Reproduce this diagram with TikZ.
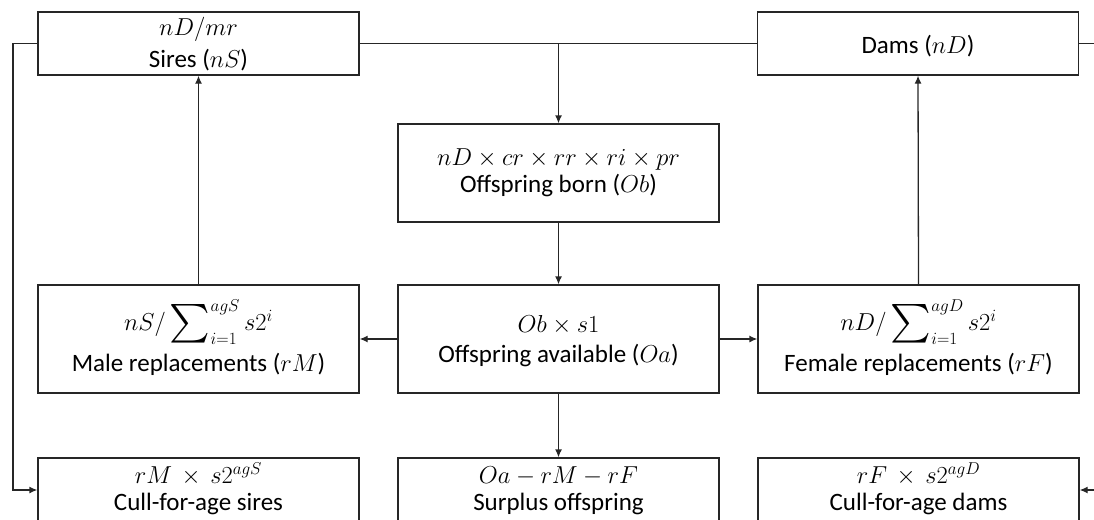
\RequirePackage{fix-cm}
\documentclass[tikz,border=0pt]{standalone}
\usepackage{amsmath}
\usepackage{exscale}
\usepackage{graphicx}
\usepackage{fontspec}
\setmainfont{Carlito}
\usetikzlibrary{arrows.meta,calc}
\tikzset{
  box/.style={draw=black!85,line width=1.3pt,rectangle,inner sep=0pt,minimum width=321pt},
  txt/.style={anchor=base,inner sep=0pt,font=\fontsize{25}{29}\selectfont},
  conn/.style={draw=black!85,line width=1.3pt},
  arr/.style={conn,-{Latex[length=8pt,width=7pt]}}
}
\newcommand{\mm}[1]{{\fontsize{24.5}{28}\selectfont$#1$}}
\newcommand{\bigsum}{\mathop{\vcenter{\hbox{\scalebox{1.55}{$\sum$}}}}\nolimits}
\begin{document}
\begin{tikzpicture}[x=1pt,y=-1pt]
\useasboundingbox (0,0) rectangle (1094,519);
\clip (0,0) rectangle (1094,519);
% boxes
\node[box,minimum height=63pt] (sires) at (198.5,43.5) {};
\node[box,minimum height=63pt] (dams) at (918,43.5) {};
\node[box,minimum height=98pt] (born) at (558.5,173) {};
\node[box,minimum height=108pt] (male) at (198.5,339) {};
\node[box,minimum height=108pt] (avail) at (558.5,339) {};
\node[box,minimum height=108pt] (female) at (918.5,339) {};
\node[box,minimum height=100pt] (cullS) at (198.5,508) {};
\node[box,minimum height=100pt] (surplus) at (558.5,508) {};
\node[box,minimum height=100pt] (cullD) at (918.5,508) {};
% texts
\node[txt] (t1a) at (198.5,36) {\mm{nD/mr}};
\node[txt] (t1b) at (198.5,67) {Sires (\mm{nS})};
\node[txt] (t2a) at (918,53) {Dams (\mm{nD})};
\node[txt] (t3a) at (558.5,165) {\mm{nD\times cr\times rr\times ri\times pr}};
\node[txt] (t3b) at (558.5,192) {Offspring born (\mm{Ob})};
\node[txt] (t4a) at (198.5,330) {\mm{nS/\bigsum_{i=1}^{agS} s2^i}};
\node[txt] (t4b) at (198.5,371) {Male replacements (\mm{rM})};
\node[txt] (t5a) at (558.5,332) {\mm{Ob\times s1}};
\node[txt] (t5b) at (558.5,362) {Offspring available (\mm{Oa})};
\node[txt] (t6a) at (918.5,330) {\mm{nD/\bigsum_{i=1}^{agD} s2^i}};
\node[txt] (t6b) at (918.5,371) {Female replacements (\mm{rF})};
\node[txt] (t7a) at (198.5,483) {\mm{rM\,\times\, s2^{agS}}};
\node[txt] (t7b) at (198.5,510) {Cull-for-age sires};
\node[txt] (t8a) at (558.5,483) {\mm{Oa-rM-rF}};
\node[txt] (t8b) at (558.5,510) {Surplus offspring};
\node[txt] (t9a) at (918.5,483) {\mm{rF\,\times\, s2^{agD}}};
\node[txt] (t9b) at (918.5,510) {Cull-for-age dams};
% connectors
\coordinate (lj) at (13,490);
\coordinate (rj) at (1110,490);
\draw[conn] (sires.east) -- (dams.west);
\draw[arr] (sires.west) -| (lj) -- (cullS.west |- lj);
\draw[arr] (dams.east) -| (rj) -- (cullD.east |- rj);
\draw[arr] (born.north |- sires.east) -- (born.north);
\draw[arr] (born.south) -- (avail.north);
\draw[arr] (avail.west) -- (male.east);
\draw[arr] (avail.east) -- (female.west);
\draw[arr] (avail.south) -- (surplus.north);
\draw[arr] (male.north) -- (sires.south);
\draw[arr] (female.north) -- (dams.south);
\end{tikzpicture}
\end{document}
